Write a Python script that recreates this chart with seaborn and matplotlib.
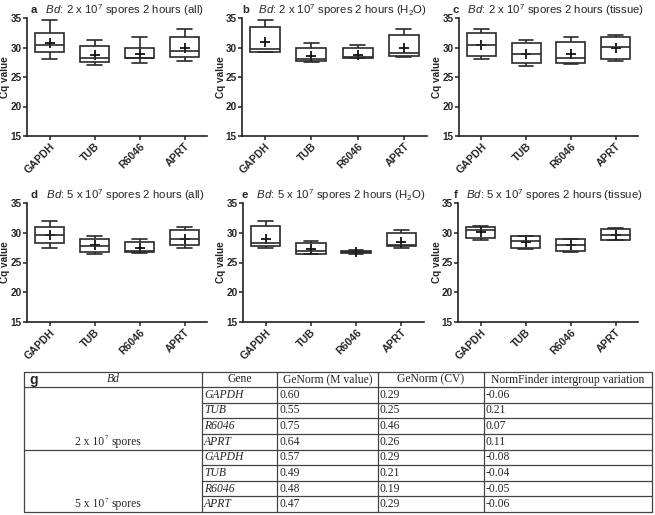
import numpy as np
import pandas as pd
import matplotlib
matplotlib.use("Agg")
import matplotlib.pyplot as plt
import seaborn as sns

# ---------------- data ----------------
genes = ["GAPDH", "TUB", "R6046", "APRT"]

# five-number summaries per gene: [min, q1, median, q3, max]
stats_a = [[28.1, 29.3, 30.4, 32.5, 34.6], [27.0, 27.6, 28.3, 30.3, 31.3],
           [27.3, 28.2, 28.3, 30.0, 31.7], [27.7, 28.4, 29.4, 31.8, 33.2]]
means_a = [30.7, 28.8, 28.9, 30.0]
stats_b = [[29.2, 29.3, 29.8, 33.5, 34.6], [27.6, 27.7, 28.1, 30.0, 30.7],
           [28.2, 28.3, 28.4, 30.0, 30.5], [28.4, 28.5, 29.0, 32.2, 33.1]]
means_b = [30.9, 28.5, 28.8, 29.9]
stats_c = [[28.1, 28.6, 30.5, 32.5, 33.1], [26.9, 27.4, 28.9, 30.7, 31.3],
           [27.2, 27.4, 28.2, 30.9, 31.7], [27.7, 28.1, 30.1, 31.8, 32.1]]
means_c = [30.5, 28.9, 28.9, 30.0]
stats_d = [[27.5, 28.3, 29.6, 31.0, 31.9], [26.5, 26.7, 27.8, 28.9, 29.5],
           [26.6, 26.7, 27.0, 28.5, 29.0], [27.5, 27.9, 28.9, 30.4, 30.9]]
means_d = [29.6, 27.9, 27.4, 29.0]
stats_e = [[27.5, 27.7, 28.3, 31.1, 31.9], [26.4, 26.5, 26.9, 28.2, 28.6],
           [26.5, 26.6, 26.8, 27.0, 27.1], [27.5, 27.7, 28.0, 29.9, 30.5]]
means_e = [29.0, 27.2, 26.8, 28.5]
stats_f = [[28.8, 29.1, 30.5, 31.0, 31.1], [27.2, 27.4, 28.6, 29.4, 29.5],
           [26.8, 27.0, 28.0, 29.0, 29.0], [28.7, 28.8, 29.6, 30.7, 30.8]]
means_f = [30.2, 28.5, 28.0, 29.7]

panel_letters = ["a", "b", "c", "d", "e", "f"]
panel_doses = ["2", "2", "2", "5", "5", "5"]
panel_groups = ["(all)", "(H$_{2}$O)", "(tissue)", "(all)", "(H$_{2}$O)", "(tissue)"]

# table g
table_header = ["Bd", "Gene", "GeNorm (M value)", "GeNorm (CV)", "NormFinder intergroup variation"]
table_groups = ["2 x 10", "5 x 10"]
table_genes = ["GAPDH", "TUB", "R6046", "APRT", "GAPDH", "TUB", "R6046", "APRT"]
table_m = ["0.60", "0.55", "0.75", "0.64", "0.57", "0.49", "0.48", "0.47"]
table_cv = ["0.29", "0.25", "0.46", "0.26", "0.29", "0.21", "0.19", "0.29"]
table_nf = ["-0.06", "0.21", "0.07", "0.11", "-0.08", "-0.04", "-0.05", "-0.06"]

# ---------------- style ----------------
sns.set_style("ticks")
plt.rcParams["font.family"] = ["Liberation Sans", "DejaVu Sans"]
plt.rcParams["mathtext.fontset"] = "custom"
plt.rcParams["mathtext.rm"] = "Liberation Sans"
plt.rcParams["mathtext.it"] = "Liberation Sans:italic"
plt.rcParams["mathtext.bf"] = "Liberation Sans:bold"

W, H = 655, 515
fig = plt.figure(figsize=(W / 100, H / 100), dpi=100)

def px_axes(l, t, r, b):
    return fig.add_axes([l / W, 1 - b / H, (r - l) / W, (b - t) / H])

boxes = [(27, 18, 207, 136), (242, 18, 427, 136), (459, 18, 638, 136),
         (27, 203, 207, 322), (243, 203, 424, 322), (458, 203, 638, 322)]
all_stats = [stats_a, stats_b, stats_c, stats_d, stats_e, stats_f]
all_means = [means_a, means_b, means_c, means_d, means_e, means_f]

for i in range(6):
    l, t, r, b = boxes[i]
    ax = px_axes(l, t, r, b)
    rows = []
    for g, s in zip(genes, all_stats[i]):
        for v in s:
            rows.append({"gene": g, "cq": v})
    df = pd.DataFrame(rows)
    sns.boxplot(data=df, x="gene", y="cq", order=genes, whis=(0, 100), width=0.65,
                color="white", linecolor="#2a2a2a", linewidth=1.2, fliersize=0, ax=ax)
    sns.pointplot(x=genes, y=all_means[i], order=genes, marker="+", linestyle="none",
                  color="#111111", errorbar=None, markersize=7, markeredgewidth=1.3, ax=ax)
    ax.set_ylim(15, 35)
    ax.set_xlim(-0.5, 3.5)
    ax.set_yticks([15, 20, 25, 30, 35])
    ax.set_xlabel("")
    ax.set_ylabel("Cq value", fontsize=7.2, fontweight="bold")
    ax.yaxis.set_label_coords(-16.5 / (r - l), 0.5)
    for sp in ["top", "right"]:
        ax.spines[sp].set_visible(False)
    for sp in ["left", "bottom"]:
        ax.spines[sp].set_linewidth(1.2)
        ax.spines[sp].set_color("#222222")
    ax.tick_params(axis="both", length=3, width=1.1, color="#222222", pad=1.0)
    ax.tick_params(axis="y", labelsize=7.2)
    ax.tick_params(axis="x", labelsize=7.6)
    for lab in ax.get_yticklabels():
        lab.set_fontweight("bold")
    for lab in ax.get_xticklabels():
        lab.set_fontweight("bold")
        lab.set_rotation(45)
        lab.set_ha("right")
        lab.set_rotation_mode("anchor")
    title = (r"$\mathbf{" + panel_letters[i] + r"}$   $\mathit{Bd}$: " + panel_doses[i]
             + r" x 10$^{7}$ spores 2 hours " + panel_groups[i])
    ax.set_title(title, fontsize=8.2, pad=3)

# ---------------- table ----------------
tax = fig.add_axes([0, 0, 1, 1])
tax.set_xlim(0, W)
tax.set_ylim(H, 0)
tax.axis("off")

x0, xg, xm, xc, xn, x1 = 24, 202, 277, 378, 484, 652
y_top, y_head = 372, 387
row_h = (512 - y_head) / 8.0
lc = "#444444"
lw = 0.9
serif = ["Liberation Serif", "DejaVu Serif"]

tax.plot([x0, x1], [y_top, y_top], color=lc, lw=lw)
tax.plot([x0, x1], [y_head, y_head], color=lc, lw=lw)
tax.plot([x0, x1], [y_head + 4 * row_h] * 2, color=lc, lw=lw)
tax.plot([x0, x1], [y_head + 8 * row_h] * 2, color=lc, lw=lw)
for xv in [x0, xg, xm, xc, xn, x1]:
    tax.plot([xv, xv], [y_top, y_head + 8 * row_h], color=lc, lw=lw)
for k in [1, 2, 3, 5, 6, 7]:
    tax.plot([xg, x1], [y_head + k * row_h] * 2, color=lc, lw=lw)

fs = 8.4
yh = (y_top + y_head) / 2
tax.text(x0 + 5, yh + 0.5, "g", fontsize=10, fontweight="bold", va="center", ha="left")
tax.text((x0 + xg) / 2, yh, table_header[0], fontsize=fs, family=serif, style="italic",
         va="center", ha="center")
for (xa, xb), txt in zip([(xg, xm), (xm, xc), (xc, xn), (xn, x1)], table_header[1:]):
    tax.text((xa + xb) / 2, yh, txt, fontsize=fs, family=serif, va="center", ha="center")

for r in range(8):
    yc = y_head + (r + 0.5) * row_h
    tax.text(xg + 2, yc, table_genes[r], fontsize=fs, family=serif, style="italic",
             va="center", ha="left")
    tax.text(xm + 2, yc, table_m[r], fontsize=fs, family=serif, va="center", ha="left")
    tax.text(xc + 2, yc, table_cv[r], fontsize=fs, family=serif, va="center", ha="left")
    tax.text(xn + 2, yc, table_nf[r], fontsize=fs, family=serif, va="center", ha="left")
for gi in range(2):
    yc = y_head + (4 * gi + 3.5) * row_h
    cx = (x0 + xg) / 2
    tax.text(cx - 9, yc, table_groups[gi], fontsize=fs, family=serif, va="center", ha="right")
    tax.text(cx - 8.5, yc - 4, "7", fontsize=fs * 0.6, family=serif, va="center", ha="left")
    tax.text(cx - 2, yc, "spores", fontsize=fs, family=serif, va="center", ha="left")

fig.savefig("out.png", dpi=100)
